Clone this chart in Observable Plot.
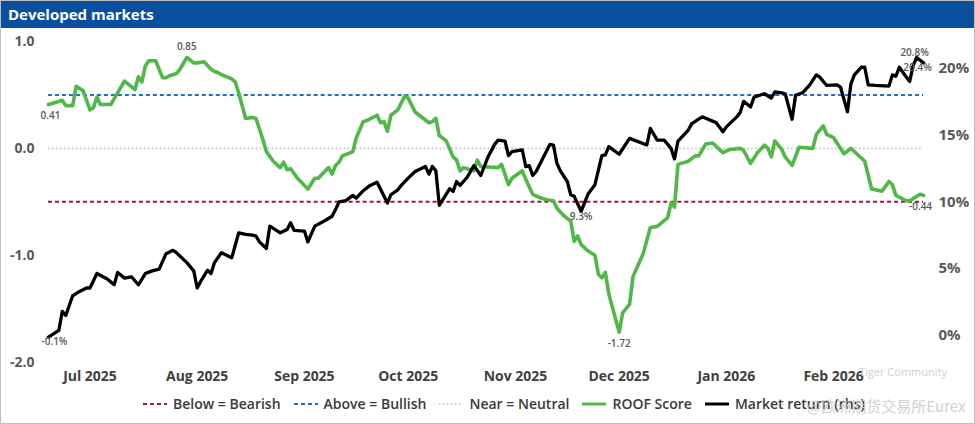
<!DOCTYPE html>
<html>
<head>
<meta charset="utf-8">
<script src="https://cdn.jsdelivr.net/npm/d3@7"></script>
<script src="https://cdn.jsdelivr.net/npm/@observablehq/plot@0.6"></script>
<style>
  html, body { margin: 0; padding: 0; background: #fff; }
  #frame { position: relative; width: 973px; height: 422px; border: 1px solid #bfbfbf; overflow: hidden; font-family: "Open Sans", "Noto Sans", sans-serif; }
  #title { height: 27px; background: #0A4F9E; color: #fff; font-weight: 700; font-size: 15px; line-height: 27px; padding-left: 7px; }
  #chart { position: absolute; left: -1px; top: 27px; }
  #legend { position: absolute; left: 0; top: 393px; width: 973px; display: flex; justify-content: center; align-items: center; font-size: 14px; font-weight: 600; color: #3a3a3a; padding-left: 44px; box-sizing: border-box; }
  #legend .item { display: flex; align-items: center; margin-right: 12px; }
  #legend svg { margin-right: 5px; }
  .wm { position: absolute; color: #c8c8c8; pointer-events: none; opacity: 0.85; }
</style>
</head>
<body>
<div id="frame">
  <div id="title">Developed markets</div>
  <div id="chart"></div>
  <div id="legend"></div>
  <div class="wm" style="left:858px; top:363px; font-size:11px;">Tiger Community</div>
  <div class="wm" style="left:806px; top:394px; font-size:15px; font-family:'Noto Sans CJK SC','Open Sans';">@欧洲期货交易所Eurex</div>
</div>
<script>
// ROOF score (left axis)
const roofDates = ["2025-06-19","2025-06-21","2025-06-23","2025-06-24","2025-06-26","2025-06-27","2025-06-29","2025-07-01","2025-07-02","2025-07-03","2025-07-04","2025-07-07","2025-07-09","2025-07-11","2025-07-14","2025-07-15","2025-07-16","2025-07-17","2025-07-18","2025-07-20","2025-07-22","2025-07-23","2025-07-24","2025-07-26","2025-07-27","2025-07-29","2025-07-31","2025-08-01","2025-08-03","2025-08-05","2025-08-06","2025-08-07","2025-08-08","2025-08-11","2025-08-12","2025-08-13","2025-08-15","2025-08-17","2025-08-18","2025-08-20","2025-08-21","2025-08-23","2025-08-25","2025-08-26","2025-08-27","2025-08-28","2025-08-30","2025-09-02","2025-09-04","2025-09-05","2025-09-08","2025-09-09","2025-09-10","2025-09-11","2025-09-12","2025-09-15","2025-09-16","2025-09-18","2025-09-19","2025-09-22","2025-09-23","2025-09-24","2025-09-25","2025-09-26","2025-09-28","2025-09-30","2025-10-01","2025-10-03","2025-10-07","2025-10-08","2025-10-09","2025-10-10","2025-10-12","2025-10-14","2025-10-15","2025-10-16","2025-10-17","2025-10-19","2025-10-20","2025-10-21","2025-10-22","2025-10-27","2025-10-28","2025-10-30","2025-10-31","2025-11-03","2025-11-04","2025-11-06","2025-11-08","2025-11-10","2025-11-12","2025-11-13","2025-11-15","2025-11-17","2025-11-18","2025-11-19","2025-11-20","2025-11-22","2025-11-24","2025-11-25","2025-11-26","2025-11-27","2025-11-28","2025-12-01","2025-12-02","2025-12-04","2025-12-05","2025-12-08","2025-12-10","2025-12-12","2025-12-15","2025-12-16","2025-12-17","2025-12-18","2025-12-21","2025-12-23","2025-12-24","2025-12-26","2025-12-28","2025-12-31","2026-01-02","2026-01-05","2026-01-06","2026-01-08","2026-01-10","2026-01-12","2026-01-13","2026-01-14","2026-01-15","2026-01-17","2026-01-18","2026-01-20","2026-01-22","2026-01-26","2026-01-27","2026-01-29","2026-01-30","2026-02-01","2026-02-04","2026-02-06","2026-02-09","2026-02-10","2026-02-12","2026-02-15","2026-02-17","2026-02-18","2026-02-19","2026-02-22","2026-02-23","2026-02-26","2026-02-27"];
const roofScore = [0.41,0.43,0.45,0.40,0.40,0.58,0.54,0.36,0.38,0.48,0.41,0.41,0.52,0.63,0.55,0.67,0.62,0.77,0.82,0.82,0.66,0.66,0.68,0.70,0.74,0.85,0.80,0.80,0.81,0.74,0.72,0.71,0.69,0.65,0.62,0.52,0.28,0.29,0.28,0.08,-0.03,-0.12,-0.18,-0.13,-0.20,-0.19,-0.28,-0.38,-0.28,-0.28,-0.18,-0.24,-0.16,-0.13,-0.07,-0.03,0.10,0.25,0.26,0.31,0.24,0.25,0.16,0.31,0.36,0.49,0.47,0.34,0.24,0.25,0.28,0.12,0.07,-0.08,-0.11,-0.21,-0.18,-0.20,-0.21,-0.11,-0.17,-0.18,-0.15,-0.34,-0.28,-0.21,-0.29,-0.43,-0.46,-0.48,-0.49,-0.56,-0.63,-0.68,-0.87,-0.82,-0.90,-0.96,-1.00,-1.18,-1.21,-1.16,-1.36,-1.72,-1.54,-1.46,-1.20,-0.98,-0.74,-0.73,-0.65,-0.51,-0.55,-0.15,-0.12,-0.07,-0.07,0.04,0.05,-0.04,-0.01,0.00,-0.02,-0.14,-0.04,0.03,0.00,-0.08,0.07,-0.01,-0.08,-0.16,0.01,0.00,0.13,0.21,0.13,0.10,-0.05,0.00,-0.09,-0.12,-0.38,-0.40,-0.31,-0.34,-0.44,-0.49,-0.49,-0.43,-0.44];

// Market return, % (right axis)
const retDates = ["2025-06-19","2025-06-22","2025-06-23","2025-06-24","2025-06-26","2025-06-28","2025-06-30","2025-07-01","2025-07-03","2025-07-06","2025-07-08","2025-07-09","2025-07-11","2025-07-13","2025-07-15","2025-07-17","2025-07-19","2025-07-21","2025-07-23","2025-07-25","2025-07-26","2025-07-29","2025-07-31","2025-08-01","2025-08-02","2025-08-04","2025-08-05","2025-08-06","2025-08-08","2025-08-11","2025-08-13","2025-08-15","2025-08-17","2025-08-18","2025-08-19","2025-08-21","2025-08-22","2025-08-25","2025-08-27","2025-08-28","2025-08-29","2025-09-01","2025-09-02","2025-09-04","2025-09-07","2025-09-09","2025-09-10","2025-09-11","2025-09-13","2025-09-15","2025-09-16","2025-09-18","2025-09-20","2025-09-22","2025-09-25","2025-09-26","2025-09-28","2025-09-29","2025-10-01","2025-10-03","2025-10-06","2025-10-07","2025-10-08","2025-10-09","2025-10-10","2025-10-13","2025-10-14","2025-10-15","2025-10-16","2025-10-18","2025-10-20","2025-10-22","2025-10-24","2025-10-26","2025-10-27","2025-10-29","2025-10-30","2025-10-31","2025-11-03","2025-11-04","2025-11-05","2025-11-06","2025-11-07","2025-11-11","2025-11-12","2025-11-13","2025-11-14","2025-11-16","2025-11-17","2025-11-18","2025-11-20","2025-11-22","2025-11-24","2025-11-26","2025-11-27","2025-11-28","2025-12-01","2025-12-04","2025-12-09","2025-12-10","2025-12-12","2025-12-14","2025-12-16","2025-12-17","2025-12-18","2025-12-21","2025-12-22","2025-12-25","2025-12-28","2025-12-29","2025-12-31","2026-01-01","2026-01-04","2026-01-05","2026-01-06","2026-01-08","2026-01-09","2026-01-12","2026-01-14","2026-01-15","2026-01-17","2026-01-18","2026-01-20","2026-01-21","2026-01-23","2026-01-25","2026-01-27","2026-01-28","2026-01-30","2026-02-02","2026-02-03","2026-02-05","2026-02-06","2026-02-07","2026-02-09","2026-02-10","2026-02-11","2026-02-13","2026-02-17","2026-02-18","2026-02-19","2026-02-20","2026-02-21","2026-02-23","2026-02-24","2026-02-25","2026-02-27"];
const retValues = [-0.13,0.37,1.8,1.49,2.97,3.29,3.55,3.55,4.63,4.22,3.79,4.71,4.29,4.39,3.79,4.63,4.83,4.96,6.12,6.37,6.19,5.45,4.83,3.55,4.04,4.88,4.63,5.45,6.19,5.82,7.68,7.56,7.51,7.43,7.0,6.51,8.18,7.68,7.93,8.43,7.86,7.81,7.0,8.18,8.6,8.92,9.42,9.99,10.09,10.48,10.28,10.83,11.23,11.47,9.91,10.53,10.9,11.23,11.77,12.27,12.64,12.07,12.64,12.32,9.74,10.98,10.78,11.52,11.23,11.82,12.71,11.97,13.31,14.30,14.62,14.55,13.46,13.75,13.88,12.64,12.71,11.97,12.27,14.30,14.25,12.89,12.32,11.52,10.53,10.41,9.29,10.58,11.28,13.46,13.51,14.13,13.56,14.75,14.25,15.49,14.62,14.62,14.0,13.21,14.55,15.37,15.85,16.36,16.04,15.93,15.24,15.61,16.36,16.68,17.52,17.1,17.84,18.09,17.77,18.22,18.16,18.09,16.18,17.97,18.16,18.71,19.5,19.33,18.71,18.76,18.59,16.73,18.83,19.5,20.07,20.07,18.76,18.71,18.66,19.5,19.4,20.07,19.70,19.01,20.2,20.8,20.4];

const monthTicks = ["2025-07-01","2025-08-01","2025-09-01","2025-10-01","2025-11-01","2025-12-01","2026-01-01","2026-02-01"];
const leftTicks = [1, 0, -1, -2];
const rightTicks = [0, 5, 10, 15, 20];
const bearish = -0.5, bullish = 0.5, neutral = 0;
// data labels: which points carry a value label
const roofLabelDates = ["2025-06-19","2025-07-29","2025-12-01","2026-02-27"];
const retLabelDates = ["2025-06-19","2025-11-20","2026-02-25","2026-02-27"];

// right axis (market return %) shares the left scale: left = (ret - 14) / 8
const toLeft = r => (r - 14) / 8;

const roof = roofDates.map((d, i) => ({date: new Date(d), v: roofScore[i]}));
const ret = retDates.map((d, i) => ({date: new Date(d), v: retValues[i]}));
const start = new Date(roofDates[0]), end = new Date(roofDates[roofDates.length - 1]);
const iso = d => d.toISOString().slice(0, 10);

// label offsets (styling only)
const roofOffsets = [[2, 11], [0, -11], [0, 12], [-3, 11]];
const retOffsets = [[6, 5], [0, 6], [-2, -5], [-6, 5]];

const labelMarks = [];
roofLabelDates.forEach((ds, i) => {
  const pt = roof.filter(d => iso(d.date) === ds);
  labelMarks.push(Plot.text(pt, {x: "date", y: "v", dx: roofOffsets[i][0], dy: roofOffsets[i][1], text: d => d.v.toFixed(2), fill: "#595959", fontSize: 10, fontWeight: 600}));
});
retLabelDates.forEach((ds, i) => {
  const pt = ret.filter(d => iso(d.date) === ds);
  labelMarks.push(Plot.text(pt, {x: "date", y: d => toLeft(d.v), dx: retOffsets[i][0], dy: retOffsets[i][1], text: d => d.v.toFixed(1) + "%", fill: "#595959", fontSize: 10, fontWeight: 600}));
});

const C = {red: "#A8123E", blue: "#1F6FC4", gray: "#BDBDBD", green: "#4FB847", black: "#000000", text: "#595959"};

const chart = Plot.plot({
  width: 975,
  height: 366,
  marginLeft: 48,
  marginRight: 51,
  marginTop: 13,
  marginBottom: 32,
  style: {fontFamily: "'Open Sans', sans-serif", background: "transparent", overflow: "visible"},
  x: {type: "utc", domain: [start, end]},
  y: {domain: [-2, 1]},
  marks: [
    Plot.ruleY([bearish], {x1: start, x2: end, stroke: C.red, strokeWidth: 2, strokeDasharray: "4,3"}),
    Plot.ruleY([bullish], {x1: start, x2: end, stroke: C.blue, strokeWidth: 2, strokeDasharray: "4,3"}),
    Plot.ruleY([neutral], {x1: start, x2: end, stroke: C.gray, strokeWidth: 1.6, strokeDasharray: "1.5,2.5"}),
    Plot.line(roof, {x: "date", y: "v", stroke: C.green, strokeWidth: 3.6, strokeLinejoin: "round"}),
    Plot.line(ret, {x: "date", y: d => toLeft(d.v), stroke: C.black, strokeWidth: 3.3, strokeLinejoin: "round"}),
    ...labelMarks,
    Plot.axisY(leftTicks, {anchor: "left", label: null, tickSize: 0, tickPadding: 14, tickFormat: d => d.toFixed(1), fontSize: 14, fontWeight: 700, fill: C.text}),
    Plot.axisY(rightTicks.map(toLeft), {anchor: "right", label: null, tickSize: 0, tickPadding: 15, tickFormat: d => Math.round(d * 8 + 14) + "%", fontSize: 15, fontWeight: 700, fill: C.text}),
    Plot.axisX(monthTicks.map(d => new Date(d)), {anchor: "bottom", label: null, tickSize: 0, tickPadding: 9, tickFormat: d3.utcFormat("%b %Y"), fontSize: 14, fontWeight: 700, fill: "#404040"})
  ]
});
document.getElementById("chart").appendChild(chart);

// legend
const legendItems = [
  {label: "Below = Bearish", color: C.red, dash: "4,3", w: 2},
  {label: "Above = Bullish", color: C.blue, dash: "4,3", w: 2},
  {label: "Near = Neutral", color: C.gray, dash: "1.5,2.5", w: 1.6},
  {label: "ROOF Score", color: C.green, dash: null, w: 3},
  {label: "Market return (rhs)", color: C.black, dash: null, w: 3}
];
const legend = d3.select("#legend");
for (const it of legendItems) {
  const item = legend.append("div").attr("class", "item");
  const s = item.append("svg").attr("width", 26).attr("height", 10);
  s.append("line").attr("x1", 1).attr("x2", 25).attr("y1", 5).attr("y2", 5)
    .attr("stroke", it.color).attr("stroke-width", it.w).attr("stroke-dasharray", it.dash);
  item.append("span").text(it.label);
}
</script>
</body>
</html>
